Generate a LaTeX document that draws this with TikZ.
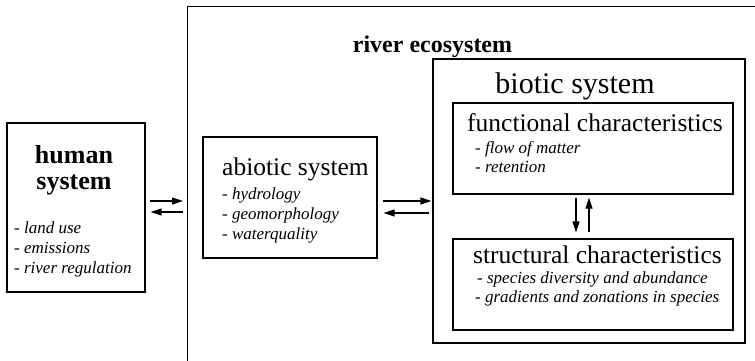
\documentclass[tikz,border=0pt]{standalone}
\usepackage{fontspec}
\setmainfont{Liberation Serif}
\usetikzlibrary{arrows.meta}
\begin{document}
\begin{tikzpicture}[x=1pt,y=-1pt,
  box/.style={draw,line width=1.2pt,inner sep=0pt},
  arr/.style={line width=1.2pt,-{Triangle[length=11pt,width=7pt]}},
  heading/.style={inner sep=0pt,font=\fontsize{24}{24}\selectfont\bfseries},
  hsys/.style={inner sep=0pt,font=\fontsize{26}{26}\selectfont\bfseries,anchor=base},
  ttl/.style={inner sep=0pt,font=\fontsize{25.5}{26}\selectfont,anchor=base west},
  itm/.style={inner sep=0pt,font=\fontsize{17}{17}\selectfont\itshape,anchor=base west}]
\fill[white] (0,0) rectangle (755,360);
\useasboundingbox (0,0) rectangle (755,360);
\clip (0,0) rectangle (755,360);

% outer frame of the river ecosystem (runs past the page edges)
\node[box,anchor=north west,minimum width=640pt,minimum height=420pt] (river) at (187,6) {};
\node[heading,anchor=base] (rtitle) at (432.5,52) {river ecosystem};

% human system
\node[box,minimum width=138pt,minimum height=169pt] (human) at (76,207.5) {};
\node[hsys] (hname1) at (74,163) {human};
\node[hsys] (hname2) at (74,189) {system};
\node[itm] (h1) at (14,233) {- land use};
\node[itm] (h2) at (14,253) {- emissions};
\node[itm] (h3) at (14,273) {- river regulation};

% abiotic system
\node[box,minimum width=174pt,minimum height=121pt] (abiotic) at (290,197.5) {};
\node[ttl] (atitle) at (222,175) {abiotic system};
\node[itm] (a1) at (222,199) {- hydrology};
\node[itm] (a2) at (222,219) {- geomorphology};
\node[itm] (a3) at (222,239) {- waterquality};

% biotic system
\node[box,minimum width=312pt,minimum height=284pt] (biotic) at (589,201) {};
\node[inner sep=0pt,font=\fontsize{30}{30}\selectfont,anchor=base] (btitle) at (575,93) {biotic system};

\node[box,minimum width=280pt,minimum height=91pt] (func) at (593,148.5) {};
\node[ttl] (ftitle) at (467,131) {functional characteristics};
\node[itm] (f1) at (475,153) {- flow of matter};
\node[itm] (f2) at (475,172) {- retention};

\node[box,minimum width=280pt,minimum height=91pt] (struct) at (593,284.5) {};
\node[ttl] (stitle) at (473,263) {structural characteristics};
\node[itm] (s1) at (477,283) {- species diversity and abundance};
\node[itm] (s2) at (475,302) {- gradients and zonations in species};

% exchanges between the systems
\draw[arr] ([shift={(4pt,6.5pt)}]human.east) -- ([shift={(-4pt,6.5pt)}]human.east -| river.west);
\draw[arr] ([shift={(-4pt,-4.5pt)}]human.east -| river.west) -- ([shift={(5pt,-4.5pt)}]human.east);

\draw[arr] ([shift={(5pt,-3.5pt)}]abiotic.east) -- ([shift={(-1pt,-3.5pt)}]abiotic.east -| biotic.west);
\draw[arr] ([shift={(-3pt,-15.5pt)}]abiotic.east -| biotic.west) -- ([shift={(6pt,-15.5pt)}]abiotic.east);

\draw[arr] ([shift={(-17pt,-3pt)}]func.south) -- ([shift={(-17pt,6pt)}]struct.north);
\draw[arr] ([shift={(-4pt,6pt)}]struct.north) -- ([shift={(-4pt,-3pt)}]func.south);
\end{tikzpicture}
\end{document}
